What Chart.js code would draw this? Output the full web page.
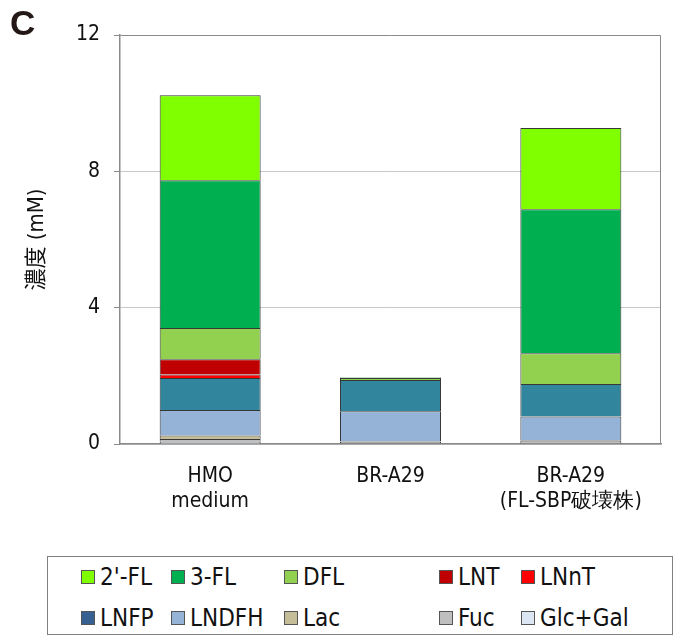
<!DOCTYPE html>
<html>
<head>
<meta charset="utf-8">
<script src="https://cdn.jsdelivr.net/npm/chart.js@4"></script>
<style>
  body { margin: 0; background: #fff; width: 685px; height: 642px; position: relative; overflow: hidden; }
  #wrap { position: absolute; left: 0; top: 0; width: 685px; height: 545px; }
  #panel { position: absolute; left: 10px; top: 3px; font: bold 35px "Liberation Sans", Arial, sans-serif; color: #231815; }
  #legend { position: absolute; left: 47px; top: 556px; width: 626px; height: 79px; border: 1.5px solid #808080; box-sizing: border-box; }
  .item { position: absolute; display: flex; align-items: center; font: 24px "DejaVu Sans Condensed", "Liberation Sans", sans-serif; color: #111; }
  .sw { width: 14px; height: 14px; border: 1px solid #555; margin-right: 5px; box-sizing: border-box; }
</style>
</head>
<body>
<div id="wrap"><canvas id="chart"></canvas></div>
<div id="panel">C</div>
<div id="legend"></div>
<script>
document.addEventListener('DOMContentLoaded', function() {
    // Categories and y-axis
    const categories = [['HMO', 'medium'], 'BR-A29', ['BR-A29', '(FL-SBP破壊株)']];
    const yTicks = [0, 4, 8, 12];

    // Series values (mM), stacked bottom -> top
    const glcGal = [0.07, 0.02, 0.03];
    const fuc    = [0.08, 0.05, 0.07];
    const lac    = [0.10, 0.01, 0.02];
    const lndfh  = [0.75, 0.88, 0.69];
    const lnfp   = [0.94, 0.92, 0.95];
    const lnnt   = [0.10, 0.00, 0.00];
    const lnt    = [0.45, 0.00, 0.00];
    const dfl    = [0.91, 0.06, 0.90];
    const fl3    = [4.34, 0.01, 4.23];
    const fl2    = [2.49, 0.01, 2.38];

    const datasets = [
        { label: 'Glc+Gal', data: glcGal, backgroundColor: '#DCE6F2' },
        { label: 'Fuc',     data: fuc,    backgroundColor: '#BFBFBF' },
        { label: 'Lac',     data: lac,    backgroundColor: '#C4BD97' },
        { label: 'LNDFH',   data: lndfh,  backgroundColor: '#95B3D7' },
        { label: 'LNFP',    data: lnfp,   backgroundColor: '#31859C', legendColor: '#366092' },
        { label: 'LNnT',    data: lnnt,   backgroundColor: '#FF0000' },
        { label: 'LNT',     data: lnt,    backgroundColor: '#C00000' },
        { label: 'DFL',     data: dfl,    backgroundColor: '#92D050' },
        { label: '3-FL',    data: fl3,    backgroundColor: '#00B050' },
        { label: "2'-FL",   data: fl2,    backgroundColor: '#7FFF00' }
    ];
    datasets.forEach(function(ds) {
        ds.borderColor = 'rgba(20,20,20,0.85)';
        ds.borderWidth = 1;
        ds.barPercentage = 0.56;
        ds.categoryPercentage = 1;
    });

    // Draw the right/top frame of the plot area
    const frame = {
        id: 'frame',
        afterDraw(chart) {
            const a = chart.chartArea, c = chart.ctx;
            c.save();
            c.strokeStyle = '#8a8a8a';
            c.lineWidth = 1;
            c.beginPath();
            c.moveTo(a.left + 0.5, a.top + 0.5);
            c.lineTo(a.right - 0.5, a.top + 0.5);
            c.lineTo(a.right - 0.5, a.bottom);
            c.stroke();
            c.restore();
        }
    };

    const font = { family: '"DejaVu Sans Condensed", "Liberation Sans", sans-serif', size: 21 };

    const chart = new Chart(document.getElementById('chart'), {
        type: 'bar',
        data: { labels: categories, datasets: datasets },
        options: {
            responsive: true,
            maintainAspectRatio: false,
            animation: false,
            layout: { padding: { top: 35, right: 24, left: 0, bottom: 0 } },
            plugins: { legend: { display: false }, tooltip: { enabled: false } },
            scales: {
                x: {
                    stacked: true,
                    grid: { display: false, drawTicks: false },
                    border: { color: '#8a8a8a', width: 1.5 },
                    ticks: { color: '#111', font: font, padding: 20, maxRotation: 0 },
                    afterFit: function(s) { s.height = 101; }
                },
                y: {
                    stacked: true,
                    min: 0,
                    max: 12,
                    afterBuildTicks: function(s) { s.ticks = yTicks.map(function(v) { return { value: v }; }); },
                    grid: { color: '#c8c8c8', tickLength: 6, tickColor: '#8a8a8a' },
                    border: { color: '#8a8a8a', width: 1.5 },
                    ticks: { color: '#111', font: font, padding: 14 },
                    title: {
                        display: true,
                        text: '濃度 (mM)',
                        color: '#111',
                        font: { family: '"DejaVu Sans Condensed", "Noto Sans CJK JP", sans-serif', size: 22 },
                        padding: { top: 24, bottom: 0 }
                    },
                    afterFit: function(s) { s.width = 120; }
                }
            }
        },
        plugins: [frame]
    });

    // HTML legend laid out as a 5 x 2 grid, top of stack first
    const colX = [33, 123, 236, 391, 473];
    const rowY = [6, 47];
    const legend = document.getElementById('legend');
    const order = datasets.slice().reverse();
    order.forEach(function(ds, i) {
        const item = document.createElement('div');
        item.className = 'item';
        item.style.left = colX[i % 5] + 'px';
        item.style.top = rowY[Math.floor(i / 5)] + 'px';
        const sw = document.createElement('span');
        sw.className = 'sw';
        sw.style.background = ds.legendColor || ds.backgroundColor;
        const txt = document.createElement('span');
        txt.textContent = ds.label;
        item.appendChild(sw);
        item.appendChild(txt);
        legend.appendChild(item);
    });
});
</script>
</body>
</html>
